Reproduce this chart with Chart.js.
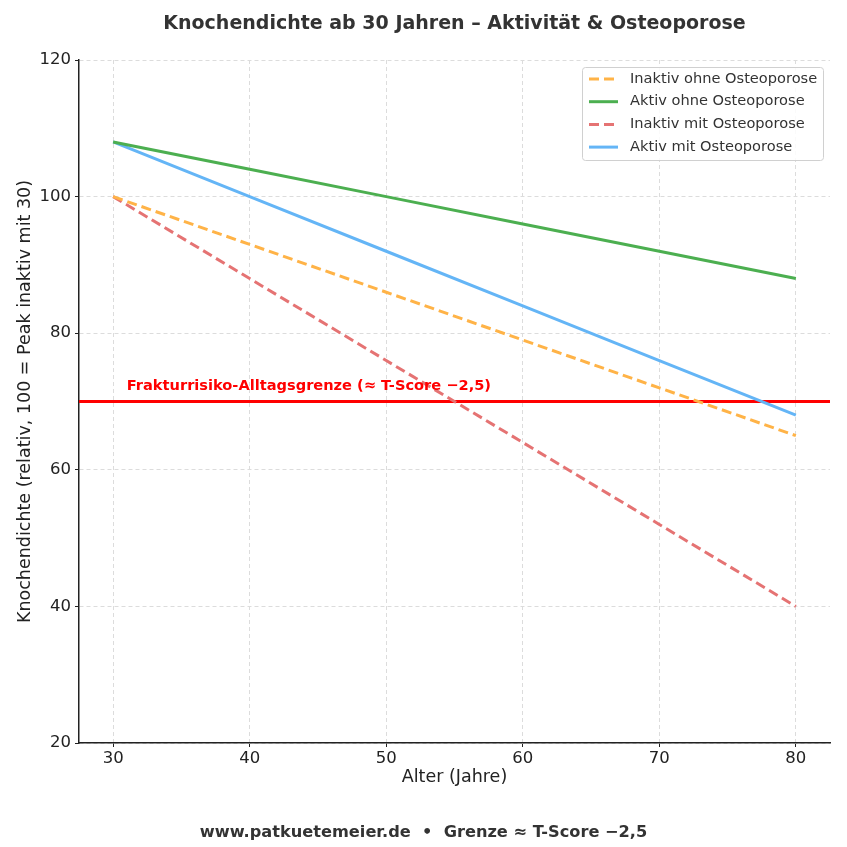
<!DOCTYPE html>
<html>
<head>
<meta charset="utf-8">
<script src="https://cdn.jsdelivr.net/npm/chart.js@4"></script>
<style>
  html, body { margin: 0; padding: 0; background: #fff; }
  #wrap { width: 847px; height: 847px; }
</style>
</head>
<body>
<div id="wrap"><canvas id="chart" width="847" height="847"></canvas></div>
<script>
const ages = [30, 40, 50, 60, 70, 80];
const inaktivOhne = [100, 93, 86, 79, 72, 65];
const aktivOhne = [108, 104, 100, 96, 92, 88];
const inaktivMit = [100, 88, 76, 64, 52, 40];
const aktivMit = [108, 100, 92, 84, 76, 68];
const seriesNames = ['Inaktiv ohne Osteoporose', 'Aktiv ohne Osteoporose', 'Inaktiv mit Osteoporose', 'Aktiv mit Osteoporose'];
const xTicks = [30, 40, 50, 60, 70, 80];
const yTicks = [20, 40, 60, 80, 100, 120];
const threshold = 70;
const thresholdLabel = 'Frakturrisiko-Alltagsgrenze (≈ T-Score −2,5)';
const titleText = 'Knochendichte ab 30 Jahren – Aktivität & Osteoporose';
const footerText = 'www.patkuetemeier.de  •  Grenze ≈ T-Score −2,5';
const xTitle = 'Alter (Jahre)';
const yTitle = 'Knochendichte (relativ, 100 = Peak inaktiv mit 30)';

const FONT = '"DejaVu Sans", sans-serif';
const colors = ['#FFB347', '#4CAF50', '#E57373', '#64B5F6'];
const dashed = [true, false, true, false];
const values = [inaktivOhne, aktivOhne, inaktivMit, aktivMit];

const toPoints = ys => ages.map((a, i) => ({ x: a, y: ys[i] }));

const datasets = values.map((ys, i) => ({
  label: seriesNames[i],
  data: toPoints(ys),
  borderColor: colors[i],
  borderWidth: 3,
  borderDash: dashed[i] ? [10, 5] : [],
  pointRadius: 0,
  fill: false,
  tension: 0
}));

const xMin = 27.5, xMax = 82.5;
datasets.push({
  label: 'threshold',
  data: [{ x: xMin, y: threshold }, { x: xMax, y: threshold }],
  borderColor: '#FF0000',
  borderWidth: 3,
  pointRadius: 0,
  fill: false
});

const decor = {
  id: 'decor',
  afterDraw(chart) {
    const { ctx, chartArea: a, scales } = chart;
    ctx.save();
    // threshold label
    ctx.fillStyle = '#FF0000';
    ctx.font = 'bold 14.6px ' + FONT;
    ctx.textAlign = 'left';
    ctx.textBaseline = 'middle';
    ctx.fillText(thresholdLabel, scales.x.getPixelForValue(31), scales.y.getPixelForValue(threshold) - 15);

    // title
    ctx.fillStyle = '#333';
    ctx.font = 'bold 19px ' + FONT;
    ctx.textAlign = 'center';
    ctx.fillText(titleText, (a.left + a.right) / 2, 24);

    // footer
    ctx.font = 'bold 16.2px ' + FONT;
    ctx.fillText(footerText, chart.width / 2, 833);

    // axis titles
    ctx.fillStyle = '#222';
    ctx.font = '17.5px ' + FONT;
    ctx.fillText(xTitle, (a.left + a.right) / 2, 777);
    ctx.save();
    ctx.translate(25, (a.top + a.bottom) / 2);
    ctx.rotate(-Math.PI / 2);
    ctx.fillText(yTitle, 0, 0);
    ctx.restore();

    // legend
    const bx = 582, by = 67, bw = 241, bh = 93;
    ctx.fillStyle = 'rgba(255,255,255,0.85)';
    ctx.strokeStyle = '#d0d0d0';
    ctx.lineWidth = 1;
    ctx.beginPath();
    ctx.roundRect(bx + 0.5, by + 0.5, bw, bh, 3);
    ctx.fill();
    ctx.stroke();
    ctx.font = '14.6px ' + FONT;
    ctx.textAlign = 'left';
    seriesNames.forEach((name, i) => {
      const y = 79 + i * 22.7;
      ctx.strokeStyle = colors[i];
      ctx.lineWidth = 3;
      ctx.setLineDash(dashed[i] ? [10, 5] : []);
      ctx.beginPath();
      ctx.moveTo(589, y);
      ctx.lineTo(618, y);
      ctx.stroke();
      ctx.setLineDash([]);
      ctx.fillStyle = '#333';
      ctx.fillText(name, 630, y);
    });
    ctx.restore();
  }
};

new Chart(document.getElementById('chart'), {
  type: 'line',
  data: { datasets },
  options: {
    responsive: false,
    animation: false,
    layout: { padding: { top: 60, right: 17, left: 0, bottom: 0 } },
    plugins: {
      legend: { display: false },
      title: { display: false },
      tooltip: { enabled: false }
    },
    scales: {
      x: {
        type: 'linear',
        min: xMin,
        max: xMax,
        afterBuildTicks: s => { s.ticks = xTicks.map(v => ({ value: v })); },
        afterFit: s => { s.height = 104; },
        grid: { color: '#dcdcdc', tickLength: 4, tickColor: '#222' },
        border: { display: true, color: '#222', width: 1.5, dash: [4, 3] },
        ticks: { font: { family: FONT, size: 16.5 }, color: '#222', padding: 2, maxRotation: 0 }
      },
      y: {
        min: 20,
        max: 120,
        afterBuildTicks: s => { s.ticks = yTicks.map(v => ({ value: v })); },
        afterFit: s => { s.width = 79; },
        grid: { color: '#dcdcdc', tickLength: 4, tickColor: '#222' },
        border: { display: true, color: '#222', width: 1.5, dash: [4, 3] },
        ticks: { font: { family: FONT, size: 16.5 }, color: '#222', padding: 4 }
      }
    }
  },
  plugins: [decor]
});
</script>
</body>
</html>
